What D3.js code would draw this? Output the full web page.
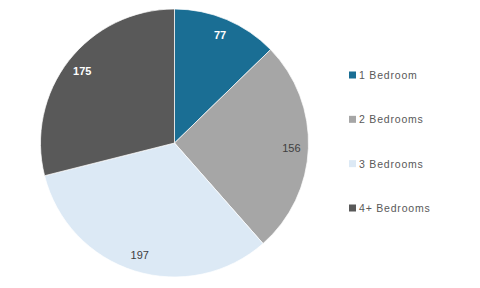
<!DOCTYPE html>
<html>
<head>
<meta charset="utf-8">
<script src="https://cdn.jsdelivr.net/npm/d3@7"></script>
<style>
  body { margin: 0; background: #fff; }
  svg { display: block; }
</style>
</head>
<body>
<div id="chart"></div>
<script>
const WIDTH = 480;
const HEIGHT = 288;

const categories = ['1 Bedroom', '2 Bedrooms', '3 Bedrooms', '4+ Bedrooms'];
const values = [77, 156, 197, 175];
const colors = ['#1a6e94', '#a6a6a6', '#dce9f5', '#595959'];
const labelColors = ['#ffffff', '#404040', '#404040', '#ffffff'];

const CENTER = {x: 174.5, y: 143};
const RADIUS = 134;

let svg = d3.select('#chart').append('svg')
    .attr('width', WIDTH)
    .attr('height', HEIGHT);

let pie = d3.pie().sort(null).value(d => d)(values);
let arc = d3.arc().innerRadius(0).outerRadius(RADIUS);
let labelArc = d3.arc().innerRadius(117).outerRadius(117);

let g = svg.append('g')
    .attr('transform', 'translate(' + CENTER.x + ',' + CENTER.y + ')');

g.selectAll('path')
    .data(pie)
    .enter().append('path')
    .attr('d', arc)
    .attr('fill', (d, i) => colors[i])
    .attr('stroke', '#ffffff')
    .attr('stroke-width', 0.7);

g.selectAll('text')
    .data(pie)
    .enter().append('text')
    .attr('transform', d => 'translate(' + labelArc.centroid(d) + ')')
    .attr('text-anchor', 'middle')
    .attr('dominant-baseline', 'central')
    .attr('font-family', 'Liberation Sans, Arial, sans-serif')
    .attr('font-size', 11)
    .attr('font-weight', (d, i) => labelColors[i] === '#ffffff' ? 'bold' : 'normal')
    .attr('fill', (d, i) => labelColors[i])
    .text(d => d.data);

// legend
let legendY = d3.scalePoint()
    .domain(categories)
    .range([75, 208]);

let legend = svg.selectAll('.legend')
    .data(categories)
    .enter().append('g')
    .attr('class', 'legend')
    .attr('transform', d => 'translate(349,' + legendY(d) + ')');

legend.append('rect')
    .attr('x', 0)
    .attr('y', -3.5)
    .attr('width', 7)
    .attr('height', 7)
    .attr('fill', (d, i) => colors[i]);

legend.append('text')
    .attr('x', 10)
    .attr('y', 0)
    .attr('dominant-baseline', 'central')
    .attr('font-family', 'Liberation Sans, Arial, sans-serif')
    .attr('font-size', 10.5)
    .attr('letter-spacing', 0.8)
    .attr('fill', '#595959')
    .text(d => d);
</script>
</body>
</html>
